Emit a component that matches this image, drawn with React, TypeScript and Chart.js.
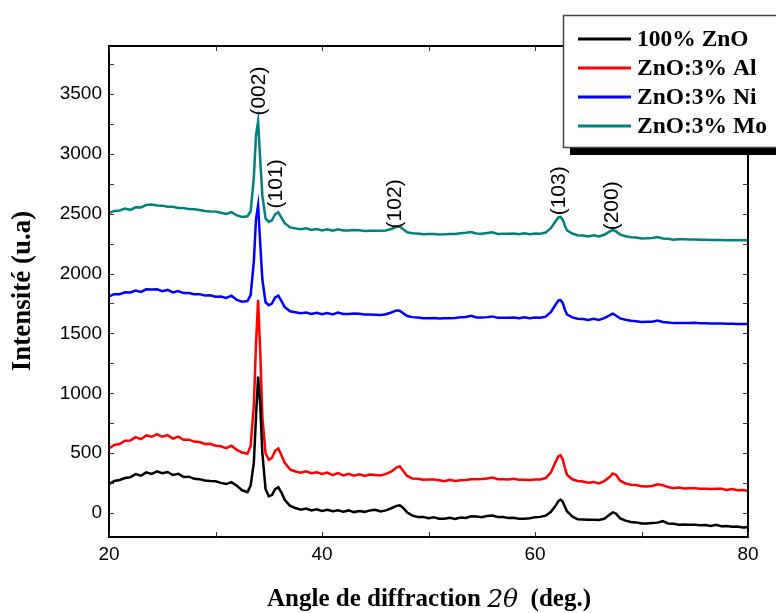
import React, { useEffect, useRef } from 'react';
import { Chart, registerables } from 'chart.js';

Chart.register(...registerables);

// 2θ angles (deg.)
const angles = [
  20, 20.5, 21, 21.5, 22, 22.5, 23, 23.5, 24, 24.5, 25, 25.5, 26, 26.5, 27, 27.5, 28, 28.5, 29, 29.5, 30, 30.5, 31, 31.5, 32, 32.5, 33,
  33.3, 33.6, 33.8, 34.0, 34.2, 34.4, 34.7, 35.0, 35.3, 35.6, 35.9, 36.2, 36.5,
  37, 37.5, 38, 38.5, 39, 39.5, 40, 40.5, 41, 41.5, 42, 42.5, 43, 43.5, 44, 44.5, 45, 45.5, 46, 46.5, 47,
  47.3, 47.6,
  48, 48.5, 49, 49.5, 50, 50.5, 51, 51.5, 52, 52.5, 53, 53.5, 54, 54.5, 55, 55.5, 56, 56.5, 57, 57.5, 58, 58.5, 59, 59.5, 60, 60.5, 61, 61.5, 62,
  62.2, 62.4, 62.6, 62.8,
  63, 63.5, 64, 64.5, 65, 65.5, 66, 66.5, 67,
  67.3, 67.6,
  68, 68.5, 69, 69.5, 70, 70.5, 71, 71.5, 72, 72.5, 73, 73.5, 74, 74.5, 75, 75.5, 76, 76.5, 77, 77.5, 78, 78.5, 79, 79.5, 80,
];

const znoPure = [
  240, 268, 276, 292, 298, 325, 312, 340, 326, 348, 332, 343, 318, 328, 302, 304, 286, 283, 272, 268, 266, 252, 242, 258, 228, 190, 175,
  230, 420, 800, 1140, 900, 500, 200, 140, 150, 200, 215, 170, 110,
  60, 42, 28, 37, 22, 32, 18, 27, 15, 24, 12, 22, 8, 17, 10, 22, 27, 13, 22, 40, 60,
  65, 45,
  5, -22, -33, -32, -43, -35, -48, -47, -40, -50, -38, -41, -27, -28, -34, -25, -20, -33, -33, -41, -40, -48, -47, -43, -36, -32, -22, 10, 70,
  100, 112, 95, 55,
  15, -28, -52, -53, -55, -56, -57, -48, -15,
  5, -5,
  -45, -63, -75, -78, -88, -88, -83, -80, -68, -87, -90, -97, -96, -98, -98, -101, -100, -107, -98, -110, -108, -114, -113, -120, -118,
];

const znoAl = [
  540, 568, 576, 604, 606, 634, 617, 648, 637, 658, 637, 651, 622, 638, 612, 613, 597, 593, 577, 578, 562, 558, 542, 562, 528, 505, 495,
  560, 900, 1400, 1780, 1350, 800, 500, 445, 460, 520, 540, 480, 420,
  365, 347, 337, 348, 332, 340, 327, 338, 317, 333, 315, 328, 312, 323, 309, 321, 318, 313, 327, 345, 380,
  390, 355,
  310, 288, 287, 278, 280, 280, 274, 266, 277, 268, 274, 276, 282, 283, 284, 288, 297, 283, 282, 280, 287, 278, 278, 277, 280, 280, 292, 340, 440,
  475, 482, 450, 380,
  320, 282, 268, 264, 253, 260, 248, 267, 300,
  330, 320,
  270, 247, 236, 234, 223, 222, 226, 240, 233, 217, 208, 214, 206, 207, 208, 202, 203, 200, 203, 202, 193, 200, 190, 192, 186,
];

const znoNi = [
  1810, 1828, 1827, 1843, 1842, 1858, 1847, 1868, 1867, 1868, 1852, 1863, 1842, 1853, 1837, 1838, 1827, 1828, 1817, 1818, 1807, 1808, 1797, 1815, 1780, 1765, 1770,
  1820, 2100, 2450, 2570, 2250, 1950, 1760, 1735, 1750, 1800, 1815, 1770, 1720,
  1685, 1677, 1668, 1674, 1663, 1672, 1660, 1670, 1658, 1674, 1663, 1662, 1666, 1664, 1658, 1657, 1656, 1654, 1660, 1675, 1692,
  1690, 1670,
  1645, 1636, 1632, 1626, 1627, 1628, 1624, 1626, 1627, 1628, 1634, 1638, 1647, 1633, 1632, 1636, 1642, 1630, 1630, 1630, 1632, 1626, 1634, 1626, 1632, 1631, 1640, 1680, 1750,
  1775, 1778, 1755, 1700,
  1660, 1634, 1623, 1620, 1613, 1622, 1613, 1627, 1650,
  1665, 1650,
  1625, 1614, 1606, 1602, 1596, 1597, 1598, 1607, 1596, 1592, 1586, 1587, 1586, 1586, 1588, 1584, 1584, 1582, 1582, 1582, 1580, 1580, 1578, 1578, 1578,
];

const znoMo = [
  2505, 2523, 2527, 2543, 2532, 2553, 2552, 2573, 2577, 2568, 2567, 2558, 2557, 2548, 2547, 2538, 2537, 2531, 2522, 2518, 2517, 2508, 2497, 2512, 2485, 2472, 2478,
  2520, 2800, 3150, 3270, 2950, 2650, 2460, 2430, 2445, 2495, 2512, 2465, 2420,
  2385, 2377, 2370, 2377, 2363, 2372, 2360, 2370, 2358, 2370, 2360, 2360, 2364, 2362, 2356, 2357, 2358, 2357, 2360, 2372, 2390,
  2392, 2372,
  2345, 2336, 2334, 2328, 2330, 2330, 2327, 2328, 2330, 2330, 2337, 2340, 2347, 2334, 2332, 2338, 2344, 2331, 2332, 2333, 2334, 2328, 2336, 2328, 2334, 2333, 2342, 2380, 2445,
  2468, 2472, 2450, 2400,
  2360, 2334, 2320, 2317, 2310, 2320, 2310, 2324, 2350,
  2365, 2352,
  2325, 2312, 2303, 2300, 2293, 2294, 2296, 2304, 2293, 2290, 2283, 2286, 2286, 2284, 2285, 2282, 2282, 2280, 2280, 2280, 2278, 2278, 2277, 2277, 2277,
];

const seriesNames = ['100% ZnO', 'ZnO:3% Al', 'ZnO:3% Ni', 'ZnO:3% Mo'];
const seriesColors = ['#000000', '#ff0000', '#0000ff', '#008080'];
const seriesValues = [znoPure, znoAl, znoNi, znoMo];

const hklLabels = ['(002)', '(101)', '(102)', '(103)', '(200)'];
const hklAngles = [34.0, 35.6, 46.8, 62.15, 67.2];
const hklBase = [3319, 2544, 2377, 2486, 2361];

const xTickLabels = [20, 40, 60, 80];
const yTickLabels = [0, 500, 1000, 1500, 2000, 2500, 3000, 3500];
const xMin = 20;
const xMax = 80;
const yMin = -200;
const yMax = 3900;
const xMinorStep = 10;
const yMinorStep = 250;

const SERIF = '"Liberation Serif", "Times New Roman", serif';
const SANS = '"Liberation Sans", Arial, sans-serif';

const decorPlugin = {
  id: 'decor',
  afterDatasetsDraw(chart: any) {
    const { ctx, chartArea, scales } = chart;
    const xs = scales.x;
    const ys = scales.y;
    ctx.save();
    ctx.fillStyle = '#000';
    ctx.font = `21px ${SANS}`;
    ctx.textAlign = 'left';
    ctx.textBaseline = 'middle';
    hklLabels.forEach((lab, i) => {
      const px = xs.getPixelForValue(hklAngles[i]);
      const py = ys.getPixelForValue(hklBase[i]);
      ctx.save();
      ctx.translate(px, py);
      ctx.rotate(-Math.PI / 2);
      ctx.fillText(lab, 0, 1);
      ctx.restore();
    });
    ctx.strokeStyle = '#000';
    ctx.lineWidth = 2;
    ctx.strokeRect(chartArea.left, chartArea.top, chartArea.right - chartArea.left, chartArea.bottom - chartArea.top);
    ctx.lineWidth = 1;
    ctx.strokeStyle = '#333';
    const tl = 5;
    for (let v = xMin; v <= xMax; v += xMinorStep) {
      const px = Math.round(xs.getPixelForValue(v)) + 0.5;
      ctx.beginPath();
      ctx.moveTo(px, chartArea.bottom);
      ctx.lineTo(px, chartArea.bottom - tl);
      ctx.moveTo(px, chartArea.top);
      ctx.lineTo(px, chartArea.top + tl);
      ctx.stroke();
    }
    for (let v = 0; v <= yMax; v += yMinorStep) {
      const py = Math.round(ys.getPixelForValue(v)) + 0.5;
      ctx.beginPath();
      ctx.moveTo(chartArea.left, py);
      ctx.lineTo(chartArea.left + tl, py);
      ctx.moveTo(chartArea.right, py);
      ctx.lineTo(chartArea.right - tl, py);
      ctx.stroke();
    }
    ctx.restore();
  },
  afterDraw(chart: any) {
    const { ctx } = chart;
    ctx.save();
    ctx.fillStyle = '#000';
    ctx.textBaseline = 'middle';
    ctx.save();
    ctx.translate(23, 291);
    ctx.rotate(-Math.PI / 2);
    ctx.textAlign = 'center';
    ctx.font = `bold 27px ${SERIF}`;
    ctx.fillText('Intensité (u.a)', 0, 0);
    ctx.restore();
    const partA = 'Angle de diffraction ';
    const partB = '2θ';
    const partC = '  (deg.)';
    const fA = `bold 25px ${SERIF}`;
    const fB = `italic 25px "DejaVu Serif", serif`;
    ctx.font = fA;
    const wA = ctx.measureText(partA).width;
    const wC = ctx.measureText(partC).width;
    ctx.font = fB;
    const wB = ctx.measureText(partB).width;
    const total = wA + wB + wC;
    let x0 = 429 - total / 2;
    ctx.textAlign = 'left';
    ctx.font = fA;
    ctx.fillText(partA, x0, 600);
    x0 += wA;
    ctx.font = fB;
    ctx.fillText(partB, x0, 600);
    x0 += wB;
    ctx.font = fA;
    ctx.fillText(partC, x0, 600);

    ctx.fillStyle = '#000';
    ctx.fillRect(570, 148, 210, 7);
    ctx.fillStyle = '#fff';
    ctx.fillRect(563, 15, 230, 132);
    ctx.strokeStyle = '#444';
    ctx.lineWidth = 1.5;
    ctx.strokeRect(563.5, 15.5, 230, 132);
    const rows = [39, 68, 97, 126];
    seriesNames.forEach((name, i) => {
      ctx.strokeStyle = seriesColors[i];
      ctx.lineWidth = 3;
      ctx.beginPath();
      ctx.moveTo(578, rows[i]);
      ctx.lineTo(631, rows[i]);
      ctx.stroke();
      ctx.fillStyle = '#000';
      ctx.font = `bold 23.5px ${SERIF}`;
      ctx.textAlign = 'left';
      ctx.textBaseline = 'middle';
      ctx.fillText(name, 637, rows[i] + 1);
    });
    ctx.restore();
  },
};

export default function App() {
  const ref = useRef<HTMLCanvasElement | null>(null);
  useEffect(() => {
    if (!ref.current) return;
    const chart = new Chart(ref.current, {
      type: 'line',
      data: {
        datasets: seriesNames.map((name, i) => ({
          label: name,
          data: angles.map((a, j) => ({ x: a, y: seriesValues[i][j] })),
          borderColor: seriesColors[i],
          backgroundColor: seriesColors[i],
          borderWidth: 2.5,
          pointRadius: 0,
          tension: 0,
          fill: false,
        })),
      },
      options: {
        responsive: false,
        animation: false,
        layout: { padding: { left: 0, right: 28, top: 46, bottom: 0 } },
        plugins: { legend: { display: false }, tooltip: { enabled: false }, title: { display: false } },
        scales: {
          x: {
            type: 'linear',
            min: xMin,
            max: xMax,
            afterBuildTicks: (s: any) => { s.ticks = xTickLabels.map((v) => ({ value: v })); },
            afterFit: (s: any) => { s.height = 76; },
            grid: { display: false, drawTicks: false },
            border: { display: false },
            ticks: { padding: 6, color: '#000', font: { family: SANS, size: 19 }, maxRotation: 0, callback: (v: any) => String(v) },
          },
          y: {
            type: 'linear',
            min: yMin,
            max: yMax,
            afterBuildTicks: (s: any) => { s.ticks = yTickLabels.map((v) => ({ value: v })); },
            afterFit: (s: any) => { s.width = 109; },
            grid: { display: false, drawTicks: false },
            border: { display: false },
            ticks: { padding: 7, color: '#000', font: { family: SANS, size: 19 }, callback: (v: any) => String(v) },
          },
        },
      },
      plugins: [decorPlugin],
    });
    return () => chart.destroy();
  }, []);
  return (
    <canvas
      ref={ref}
      width={776}
      height={613}
      style={{ position: 'absolute', left: 0, top: 0, width: 776, height: 613, background: '#fff' }}
    />
  );
}
